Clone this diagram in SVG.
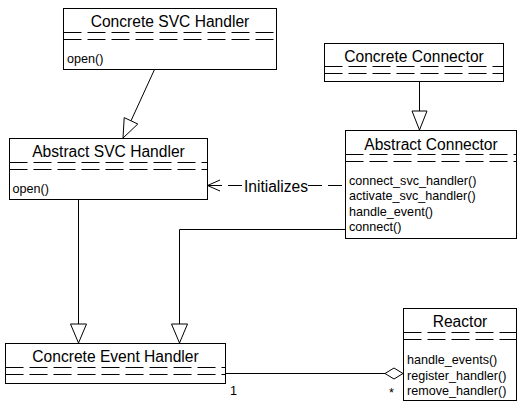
<svg xmlns="http://www.w3.org/2000/svg" width="525" height="407" viewBox="0 0 525 407">
<style>
.box{fill:#fff;stroke:#000;stroke-width:1}
.sep{stroke:#000;stroke-width:1;stroke-dasharray:18 6}
.title{font-family:"Liberation Sans",Arial,sans-serif;font-size:15.6px;text-anchor:middle;fill:#000}
.op{font-family:"Liberation Sans",Arial,sans-serif;font-size:12.6px;fill:#000}
.edge{stroke:#000;stroke-width:1;fill:none}
.dash{stroke:#000;stroke-width:1;fill:none;stroke-dasharray:14 6}
.tri{fill:#fff;stroke:#000;stroke-width:1}
</style>
<rect x="0" y="0" width="525" height="407" fill="#fff"/>

<g id="connectors">
  <!-- Concrete SVC Handler -> Abstract SVC Handler -->
  <line class="edge" x1="154.5" y1="69.5" x2="131" y2="120.8"/>
  <polygon class="tri" points="123,138 124.2,117.6 137.8,124"/>
  <!-- Concrete Connector -> Abstract Connector -->
  <line class="edge" x1="419.5" y1="81.5" x2="419.5" y2="111"/>
  <polygon class="tri" points="412,111 427,111 419.5,130"/>
  <!-- Abstract SVC Handler -> Concrete Event Handler -->
  <line class="edge" x1="78.5" y1="199.5" x2="78.5" y2="324"/>
  <polygon class="tri" points="70.5,324 86.5,324 78.5,343"/>
  <!-- Abstract Connector -> Concrete Event Handler -->
  <polyline class="edge" points="345,229.5 179.5,229.5 179.5,324"/>
  <polygon class="tri" points="171.5,324 187.5,324 179.5,343"/>
  <!-- Initializes dependency -->
  <line class="dash" x1="342" y1="185.5" x2="208" y2="185.5"/>
  <polyline class="edge" points="220,180 207.5,185.5 220,191"/>
  <rect x="244" y="178" width="64" height="17" fill="#fff"/>
  <text class="title" x="276" y="191.5">Initializes</text>
  <!-- Aggregation -->
  <line class="edge" x1="225.5" y1="373.5" x2="385" y2="373.5"/>
  <polygon class="tri" points="385,373.5 394,368 403,373.5 394,379"/>
  <text class="op" x="230" y="395">1</text>
  <text class="op" x="389" y="397">*</text>
</g>

<g id="concrete-svc-handler">
  <rect class="box" x="63.5" y="8.5" width="213" height="61"/>
  <text class="title" x="170" y="27">Concrete SVC Handler</text>
  <line class="sep" x1="63.5" y1="32.5" x2="276.5" y2="32.5"/>
  <line class="sep" x1="63.5" y1="39.5" x2="276.5" y2="39.5"/>
  <text class="op" x="67" y="63">open()</text>
</g>

<g id="abstract-svc-handler">
  <rect class="box" x="9.5" y="138.5" width="198" height="61"/>
  <text class="title" x="108.5" y="157">Abstract SVC Handler</text>
  <line class="sep" x1="9.5" y1="162.5" x2="207.5" y2="162.5"/>
  <line class="sep" x1="9.5" y1="169.5" x2="207.5" y2="169.5"/>
  <text class="op" x="12.5" y="193">open()</text>
</g>

<g id="concrete-connector">
  <rect class="box" x="324.5" y="43.5" width="179" height="38"/>
  <text class="title" x="414" y="62">Concrete Connector</text>
  <line class="sep" x1="324.5" y1="66.5" x2="503.5" y2="66.5"/>
  <line class="sep" x1="324.5" y1="73.5" x2="503.5" y2="73.5"/>
</g>

<g id="abstract-connector">
  <rect class="box" x="345.5" y="130.5" width="171" height="108"/>
  <text class="title" x="431" y="150">Abstract Connector</text>
  <line class="sep" x1="345.5" y1="154.5" x2="516.5" y2="154.5"/>
  <line class="sep" x1="345.5" y1="161.5" x2="516.5" y2="161.5"/>
  <text class="op" x="349" y="184.5">connect_svc_handler()</text>
  <text class="op" x="349" y="200">activate_svc_handler()</text>
  <text class="op" x="349" y="215.5">handle_event()</text>
  <text class="op" x="349" y="231">connect()</text>
</g>

<g id="concrete-event-handler">
  <rect class="box" x="5.5" y="343.5" width="220" height="40"/>
  <text class="title" x="115.5" y="362">Concrete Event Handler</text>
  <line class="sep" x1="5.5" y1="367.5" x2="225.5" y2="367.5"/>
  <line class="sep" x1="5.5" y1="374.5" x2="225.5" y2="374.5"/>
</g>

<g id="reactor">
  <rect class="box" x="403.5" y="308.5" width="113" height="92"/>
  <text class="title" x="460" y="327">Reactor</text>
  <line class="sep" x1="403.5" y1="332.5" x2="516.5" y2="332.5"/>
  <line class="sep" x1="403.5" y1="339.5" x2="516.5" y2="339.5"/>
  <text class="op" x="407" y="364">handle_events()</text>
  <text class="op" x="407" y="379.5">register_handler()</text>
  <text class="op" x="407" y="395">remove_handler()</text>
</g>
</svg>
